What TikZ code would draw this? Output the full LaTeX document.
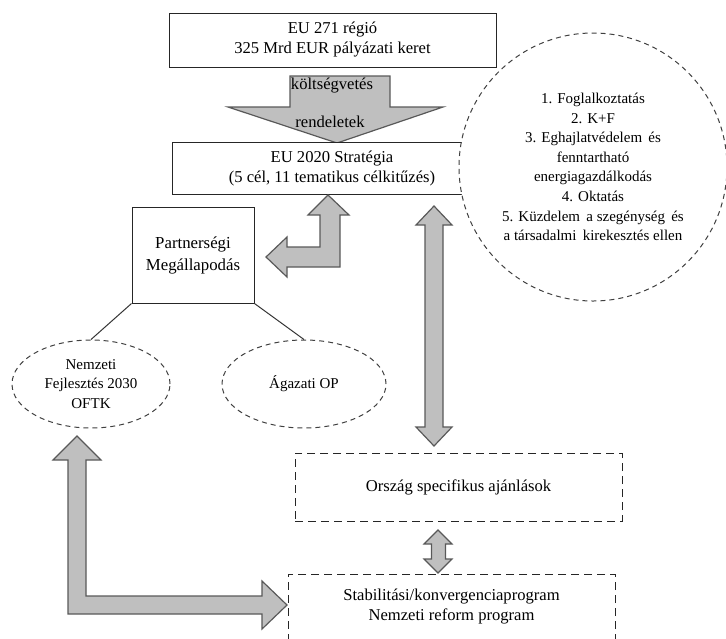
\documentclass[tikz,border=0pt]{standalone}
\usepackage{fontspec}
\setmainfont{Liberation Serif}
\usetikzlibrary{shapes.geometric}

\begin{document}
\begin{tikzpicture}
   [
    x=0.5pt, y=-0.5pt,
    every node/.style={align=center, inner sep=0pt,
                       font=\fontsize{8.3}{10}\selectfont},
    doboz/.style={rectangle, draw=black!85, line width=0.5pt, fill=white},
    szaggatott/.style={doboz, dash pattern=on 4pt off 2.5pt},
    felho/.style={draw=black!75, line width=0.5pt, fill=white,
                  dash pattern=on 2.5pt off 2pt,
                  font=\fontsize{7.5}{9.8}\selectfont},
    nyil/.style={draw=black!65, fill=black!25, line width=0.6pt,
                 line join=miter}
    ]
\useasboundingbox (0,0) rectangle (726,638);

% felso doboz
\node[doboz, minimum width=163.5pt, minimum height=27pt] (eu271) at (332.5,40)
    {EU 271 régió\\325 Mrd EUR pályázati keret};

% lefele nyil
\draw[nyil] (290,76) -- (390,76) -- (390,107) -- (443,107) -- (337,143)
    -- (228,107) -- (290,107) -- cycle;
\node (koltseg) at (332,86) {költségvetés};
\node (rendelet) at (330,122) {rendeletek};

% strategia
\node[doboz, minimum width=160pt, minimum height=26pt] (eu2020) at (332,168)
    {EU 2020 Stratégia\\(5 cél, 11 tematikus célkitűzés)};

% celok
\node[felho, circle, minimum size=134pt] (celok) at (593,167)
    {1. Foglalkoztatás\\2. K+F\\3. Eghajlatvédelem\, és\\fenntartható\\
     energiagazdálkodás\\4. Oktatás\\5. Küzdelem\, a szegénység\, és\\
     a társadalmi\, kirekesztés ellen};

% partnersegi
\node[doboz, minimum width=61pt, minimum height=48pt,
      font=\fontsize{8.4}{11}\selectfont] (pm) at (193,255)
    {Partnerségi\\Megállapodás};

% L nyil fent
\coordinate (lt) at (328,195);
\draw[nyil] (lt) -- ++(21,20) -- ++(-9,0) -- ++(0,52) -- ++(-53,0)
    -- ++(0,10) -- ++(-21,-20) -- ++(21,-20) -- ++(0,10) -- ++(33,0)
    -- ++(0,-32) -- ++(-12,0) -- cycle;

% op-k
\node[felho, ellipse, minimum width=79pt, minimum height=44pt] (nfs) at (91,384)
    {Nemzeti\\Fejlesztés 2030\\OFTK};
\node[felho, ellipse, minimum width=82pt, minimum height=44pt] (agop) at (304,384)
    {Ágazati OP};
\draw[black!80, line width=0.5pt] (pm.south west) -- (nfs.north);
\draw[black!80, line width=0.5pt] (pm.south east) -- (agop.north);

% hosszu nyil
\coordinate (ht) at (434,206);
\draw[nyil] (ht) -- ++(18,19) -- ++(-9,0) -- ++(0,202) -- ++(9,0)
    -- ++(-18,19) -- ++(-18,-19) -- ++(9,0) -- ++(0,-202) -- ++(-9,0) -- cycle;

% orszag
\node[szaggatott, minimum width=163.5pt, minimum height=34pt] (osa) at (458.5,487)
    {Ország specifikus ajánlások};

% kis nyil
\coordinate (kt) at (438,530);
\draw[nyil] (kt) -- ++(14,14) -- ++(-6.5,0) -- ++(0,15) -- ++(6.5,0)
    -- ++(-14,14) -- ++(-14,-14) -- ++(7.5,0) -- ++(0,-15) -- ++(-7.5,0) -- cycle;

% stabilitasi
\node[szaggatott, minimum width=163.5pt, minimum height=33pt] (skp) at (451.5,607)
    {Stabilitási/konvergenciaprogram\\Nemzeti reform program};

% L nyil lent
\coordinate (at) at (77,436);
\draw[nyil] (at) -- ++(24,24) -- ++(-15,0) -- ++(0,136) -- ++(176,0)
    -- ++(0,-15) -- ++(25,24) -- ++(-25,24) -- ++(0,-15) -- ++(-194,0)
    -- ++(0,-154) -- ++(-15,0) -- cycle;

\end{tikzpicture}
\end{document}
